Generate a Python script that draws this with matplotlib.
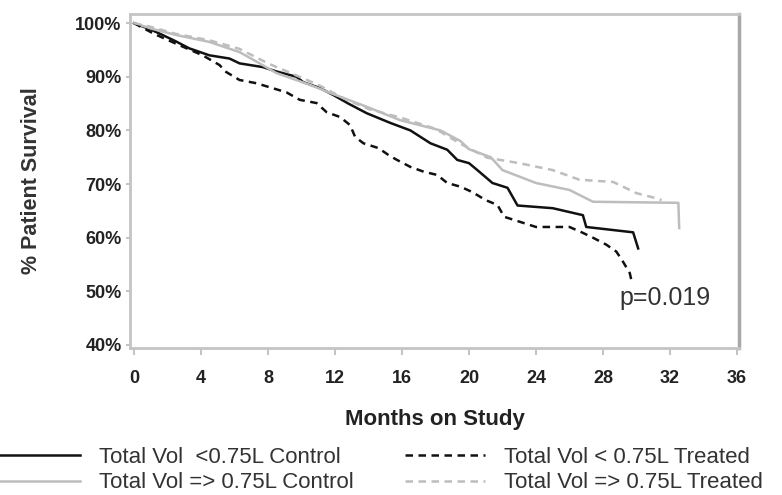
import matplotlib.pyplot as plt
from matplotlib.ticker import FuncFormatter

plt.rcParams['font.family'] = ['Liberation Sans', 'DejaVu Sans']

# Kaplan-Meier curves (months, % survival)
ctrl_lt_t = [0, 1, 1.7, 2.5, 3.3, 4.5, 5.7, 6.3, 7.7, 8.5, 9.7, 10.1, 11.1, 11.9, 12.8,
             13.9, 15.3, 16.5, 17.7, 18.7, 19.3, 20.0, 20.5, 21.1, 21.4, 22.3, 22.9,
             25.0, 26.8, 27.0, 29.8, 30.1]
ctrl_lt_s = [100, 98.8, 97.8, 96.6, 95.3, 94.0, 93.4, 92.5, 91.8, 91.0, 90.0, 89.0,
             87.9, 86.6, 85.0, 83.2, 81.4, 80.0, 77.6, 76.4, 74.5, 73.9, 72.6, 71.0,
             70.2, 69.3, 66.0, 65.5, 64.2, 62.0, 61.0, 58.0]

trt_lt_t = [0, 1.2, 2.7, 4.1, 5.1, 5.5, 6.3, 7.3, 9.1, 9.9, 10.9, 11.5, 12.3, 12.9,
            13.2, 13.7, 14.6, 15.2, 15.7, 16.5, 17.3, 18.1, 18.7, 19.5, 20.2, 21.0,
            21.7, 22.1, 22.9, 24.0, 26.0, 26.8, 27.4, 28.2, 28.8, 29.2, 29.6, 29.7]
trt_lt_s = [100, 98, 95.9, 94, 92.2, 90.9, 89.4, 88.8, 87.1, 85.7, 85.1, 83.4, 82.5,
            81, 78.8, 77.6, 76.7, 75.4, 74.5, 73.2, 72.3, 71.7, 70.2, 69.5, 68.5, 67,
            66.1, 63.9, 63.1, 62, 62, 60.9, 60, 58.7, 57.4, 55.5, 53.4, 52.0]

ctrl_ge_t = [0, 1, 2.5, 4.5, 6.3, 7.5, 8.5, 10.5, 11.7, 13.9, 15.9, 18.3, 19.5, 20.0,
             21.3, 22.0, 24.0, 26.0, 27.4, 32.5, 32.55]
ctrl_ge_s = [100, 99, 97.8, 96.5, 94.6, 92.5, 90.7, 88.5, 87, 84.4, 81.9, 80, 78,
             76.5, 75, 72.6, 70.2, 68.9, 66.7, 66.5, 61.8]

trt_ge_t = [0, 1, 2.5, 4.5, 6.3, 8.0, 9.5, 11.0, 12.5, 14.0, 16.0, 18.0, 19.5, 21.1,
            23.0, 25.0, 26.6, 28.6, 30.0, 31.0, 31.5]
trt_ge_s = [100, 99.3, 98, 96.8, 95.2, 92.5, 90.5, 88.5, 86, 84, 82.3, 80.3, 77.5,
            74.9, 73.9, 72.6, 70.8, 70.4, 68.3, 67.5, 67.0]

labels = ['Total Vol  <0.75L Control', 'Total Vol => 0.75L Control',
          'Total Vol < 0.75L Treated', 'Total Vol => 0.75L Treated']
x_ticks = list(range(0, 37, 4))
y_ticks = [40, 50, 60, 70, 80, 90, 100]
p_text = 'p=0.019'

fig = plt.figure(figsize=(7.82, 4.95), dpi=100)
ax = fig.add_axes([0.1662, 0.2970, 0.945 - 0.1662, 0.9717 - 0.2970])

black = '#111111'
gray = '#bdbdbd'
h1, = ax.plot(ctrl_lt_t, ctrl_lt_s, color=black, lw=1.8)
h2, = ax.plot(ctrl_ge_t, ctrl_ge_s, color=gray, lw=1.8)
h3, = ax.plot(trt_lt_t, trt_lt_s, color=black, lw=1.8, dashes=(3, 2.2))
h4, = ax.plot(trt_ge_t, trt_ge_s, color=gray, lw=1.8, dashes=(3, 2.2))

ax.set_xlim(-0.24, 36.12)
ax.set_ylim(39.44, 101.7)
ax.set_xticks(x_ticks)
ax.set_yticks(y_ticks)
ax.yaxis.set_major_formatter(FuncFormatter(lambda v, p: f'{v:.0f}%'))

for side in ['top', 'bottom', 'left']:
    ax.spines[side].set_color('#c4c4c4')
    ax.spines[side].set_linewidth(2)
ax.spines['right'].set_color('#a8a8a8')
ax.spines['right'].set_linewidth(2.5)

ax.tick_params(axis='both', colors='#c4c4c4', width=1.5, length=5, labelcolor='#222222')
ax.tick_params(axis='x', pad=11)
ax.tick_params(axis='y', length=3, pad=3)
for lbl in ax.get_xticklabels() + ax.get_yticklabels():
    lbl.set_fontweight('bold')
    lbl.set_fontsize(13)

ax.set_xlabel('Months on Study', fontsize=16, fontweight='bold', color='#222222', labelpad=16)
ax.set_ylabel('% Patient Survival', fontsize=15.5, fontweight='bold', color='#333333', labelpad=24)

ax.text(29.0, 48.8, p_text, fontsize=18, color='#333333', va='center', ha='left')

leg_kw = dict(frameon=False, fontsize=16, handlelength=3.6, handletextpad=0.85,
              borderpad=0, borderaxespad=0, labelspacing=0.2, loc='upper left')
leg1 = fig.legend([h1, h2], labels[:2], bbox_to_anchor=(0.0, 1 - 447 / 495), **leg_kw)
leg2 = fig.legend([h3, h4], labels[2:], bbox_to_anchor=(405 / 782, 1 - 447 / 495), **leg_kw)
for leg in (leg1, leg2):
    for t in leg.get_texts():
        t.set_color('#333333')

fig.savefig('out.png', dpi=100)
